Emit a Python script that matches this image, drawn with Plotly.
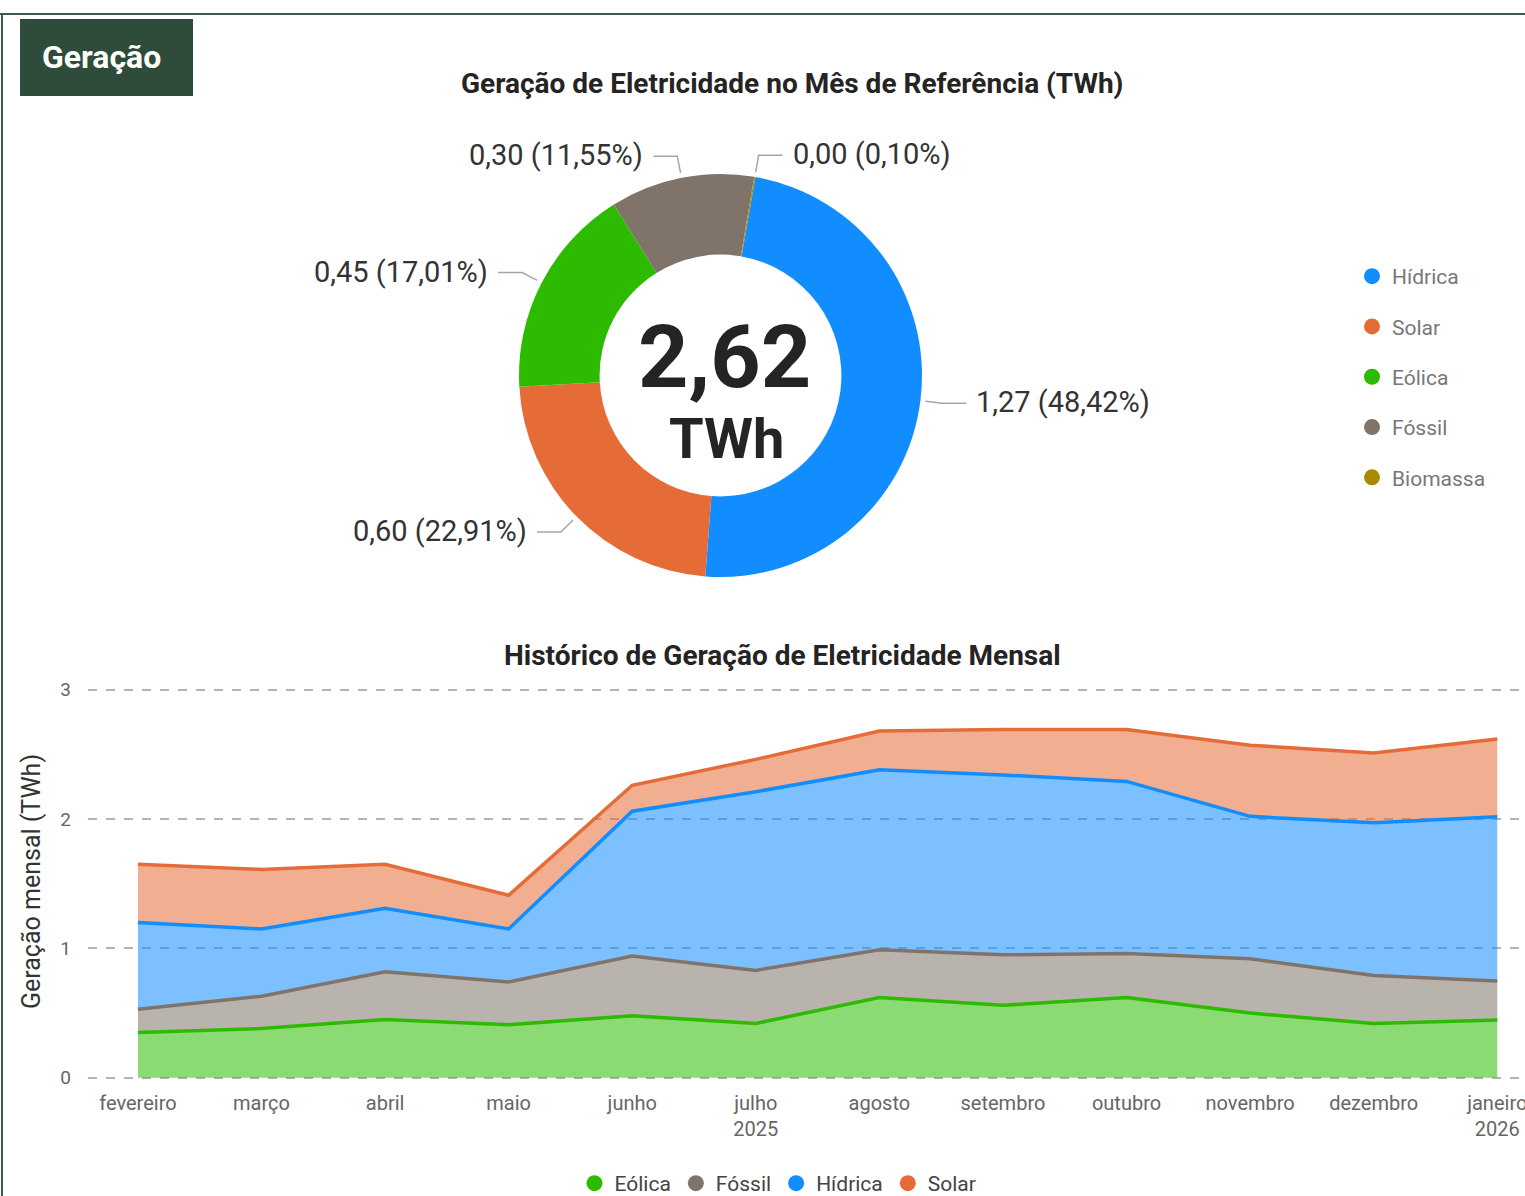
import math
import plotly.graph_objects as go

# ---------------- data ----------------
months = ["fevereiro", "março", "abril", "maio", "junho", "julho<br>2025", "agosto",
          "setembro", "outubro", "novembro", "dezembro", "janeiro<br>2026"]
eolica = [0.35, 0.38, 0.45, 0.41, 0.48, 0.42, 0.62, 0.56, 0.62, 0.50, 0.42, 0.4457]
fossil = [0.18, 0.25, 0.37, 0.33, 0.46, 0.41, 0.37, 0.39, 0.34, 0.42, 0.37, 0.3026]
hidrica = [0.67, 0.52, 0.49, 0.41, 1.12, 1.38, 1.39, 1.39, 1.33, 1.10, 1.18, 1.2684]
solar = [0.45, 0.46, 0.34, 0.26, 0.20, 0.25, 0.30, 0.35, 0.40, 0.55, 0.54, 0.6002]

ref_labels = ["Hídrica", "Solar", "Eólica", "Fóssil", "Biomassa"]
ref_values = [1.2684, 0.6002, 0.4457, 0.3026, 0.0026]

y_ticks = [0, 1, 2, 3]

# ---------------- styles ----------------
W, H = 1525, 1196
COL = {"Hídrica": (17, 141, 255), "Solar": (230, 108, 55), "Eólica": (45, 187, 0),
       "Fóssil": (128, 116, 106), "Biomassa": (169, 137, 0)}
FONT = "Roboto"
DARK = "#252423"


def rgb(c, a=None):
    return f"rgb({c[0]},{c[1]},{c[2]})" if a is None else f"rgba({c[0]},{c[1]},{c[2]},{a})"


def X(px):
    return px / W


def Y(py):
    return 1 - py / H


def br(s):
    return s.replace(".", ",")


def note(x, y, text, size, color, xanchor="center", **kw):
    return dict(x=X(x), y=Y(y), xref="paper", yref="paper", text=text, showarrow=False,
                xanchor=xanchor, yanchor="middle",
                font=dict(family=FONT, size=size, color=color), **kw)


fig = go.Figure()

# ---------------- donut ----------------
cx, cy, R = 720.5, 375.5, 201.5
ROT = 10
fig.add_trace(go.Pie(
    labels=ref_labels, values=ref_values, hole=0.6, sort=False, direction="clockwise",
    rotation=ROT, textinfo="none", showlegend=False, hoverinfo="label+value+percent",
    marker=dict(colors=[rgb(COL[l]) for l in ref_labels], line=dict(width=0)),
    domain=dict(x=[X(cx - R), X(cx + R)], y=[Y(cy + R), Y(cy - R)]),
))

# ---------------- stacked area ----------------
series = [("Eólica", eolica), ("Fóssil", fossil), ("Hídrica", hidrica), ("Solar", solar)]
for name, vals in series:
    fig.add_trace(go.Scatter(
        x=months, y=vals, name=name, stackgroup="one", mode="lines",
        line=dict(color=rgb(COL[name]), width=3.5),
        fillcolor=rgb(COL[name], 0.55), showlegend=False,
    ))

# legend entries (circles)
for name, _ in series:
    fig.add_trace(go.Scatter(x=[None], y=[None], mode="markers", name=name,
                             marker=dict(size=20, color=rgb(COL[name])),
                             legend="legend", showlegend=True))
for i, name in enumerate(ref_labels):
    fig.add_trace(go.Scatter(x=[None], y=[None], mode="markers", name=name,
                             marker=dict(size=20, color=rgb(COL[name])),
                             legend="legend2", legendgroup=f"g{i}", showlegend=True))

annotations = []
shapes = []

# donut labels with leader lines
total = sum(ref_values)
ang = ROT
for lab, v in zip(ref_labels, ref_values):
    sweep = 360 * v / total
    mid = math.radians(ang + sweep / 2)
    ang += sweep
    s, c = math.sin(mid), math.cos(mid)
    sx, sy = cx + (R + 5) * s, cy - (R + 5) * c
    ex, ey = cx + (R + 22) * s, cy - (R + 22) * c
    side = 1 if s >= 0 else -1
    hx = ex + side * 24
    shapes.append(dict(type="path", xref="paper", yref="paper",
                       path=f"M {X(sx)},{Y(sy)} L {X(ex)},{Y(ey)} L {X(hx)},{Y(ey)}",
                       line=dict(color="#a6a6a6", width=1.5)))
    txt = br(f"{v:.2f} ({100 * v / total:.2f}%)")
    annotations.append(note(hx + side * 8, ey - 1, txt, 29, "#333333",
                            xanchor="left" if side > 0 else "right"))

# center total
annotations.append(note(724, 356, f"<b>{br(f'{total:.2f}')}</b>", 88, DARK))
annotations.append(note(726, 439, "<b>TWh</b>", 56, DARK))

# titles
annotations.append(note(792, 84, "<b>Geração de Eletricidade no Mês de Referência (TWh)</b>", 28, DARK))
annotations.append(note(782, 655, "<b>Histórico de Geração de Eletricidade Mensal</b>", 28, DARK))
annotations.append(note(31, 882, "Geração mensal (TWh)", 25, "#333333", textangle=-90))

# header box
shapes.append(dict(type="rect", xref="paper", yref="paper", x0=X(20), x1=X(193),
                   y0=Y(96), y1=Y(19), fillcolor="#2f4b3a", line=dict(width=0)))
annotations.append(note(101, 57, "<b>Geração</b>", 32, "white"))
# border lines
shapes.append(dict(type="line", xref="paper", yref="paper", x0=0, x1=1, y0=Y(14), y1=Y(14),
                   line=dict(color="#3d5c48", width=2)))
shapes.append(dict(type="line", xref="paper", yref="paper", x0=X(2), x1=X(2), y0=Y(14), y1=0,
                   line=dict(color="#3d5c48", width=2)))

# y axis: value 0 at px 1077.8, value 3 at px 689.5
y_lo, y_hi = -0.02, 3.02
k = (1077.8 - 689.5) / 3
fig.update_layout(
    width=W, height=H, margin=dict(l=0, r=0, t=0, b=0, autoexpand=False),
    paper_bgcolor="white", plot_bgcolor="white", separators=",.",
    font=dict(family=FONT, color="#666666"),
    xaxis=dict(domain=[X(88), X(1522)], type="category", range=[-0.404, 11.2],
               showgrid=False, zeroline=False, showline=False, ticks="", automargin=False,
               tickfont=dict(family=FONT, size=20, color="#666666"), ticklabelstandoff=9),
    yaxis=dict(domain=[Y(1077.8 - y_lo * k), Y(1077.8 - y_hi * k)], range=[y_lo, y_hi],
               tickvals=y_ticks,
               showgrid=True, gridcolor="#b3b3b3", gridwidth=2, griddash="dash",
               zeroline=False, showline=False, ticks="", automargin=False,
               tickfont=dict(family=FONT, size=19, color="#666666"), ticklabelstandoff=16),
    legend=dict(orientation="h", x=X(778), xanchor="center", y=Y(1163), yanchor="top",
                traceorder="normal",
                font=dict(family=FONT, size=21, color="#444444"), bgcolor="rgba(0,0,0,0)",
                itemclick=False),
    legend2=dict(x=X(1352), xanchor="left", y=Y(256), yanchor="top", traceorder="grouped",
                 font=dict(family=FONT, size=21, color="#777777"), bgcolor="rgba(0,0,0,0)",
                 tracegroupgap=20),
    annotations=annotations, shapes=shapes, showlegend=True,
)

fig.write_html("out.html", config={"displayModeBar": False},
               post_script="document.body.style.margin='0';")
